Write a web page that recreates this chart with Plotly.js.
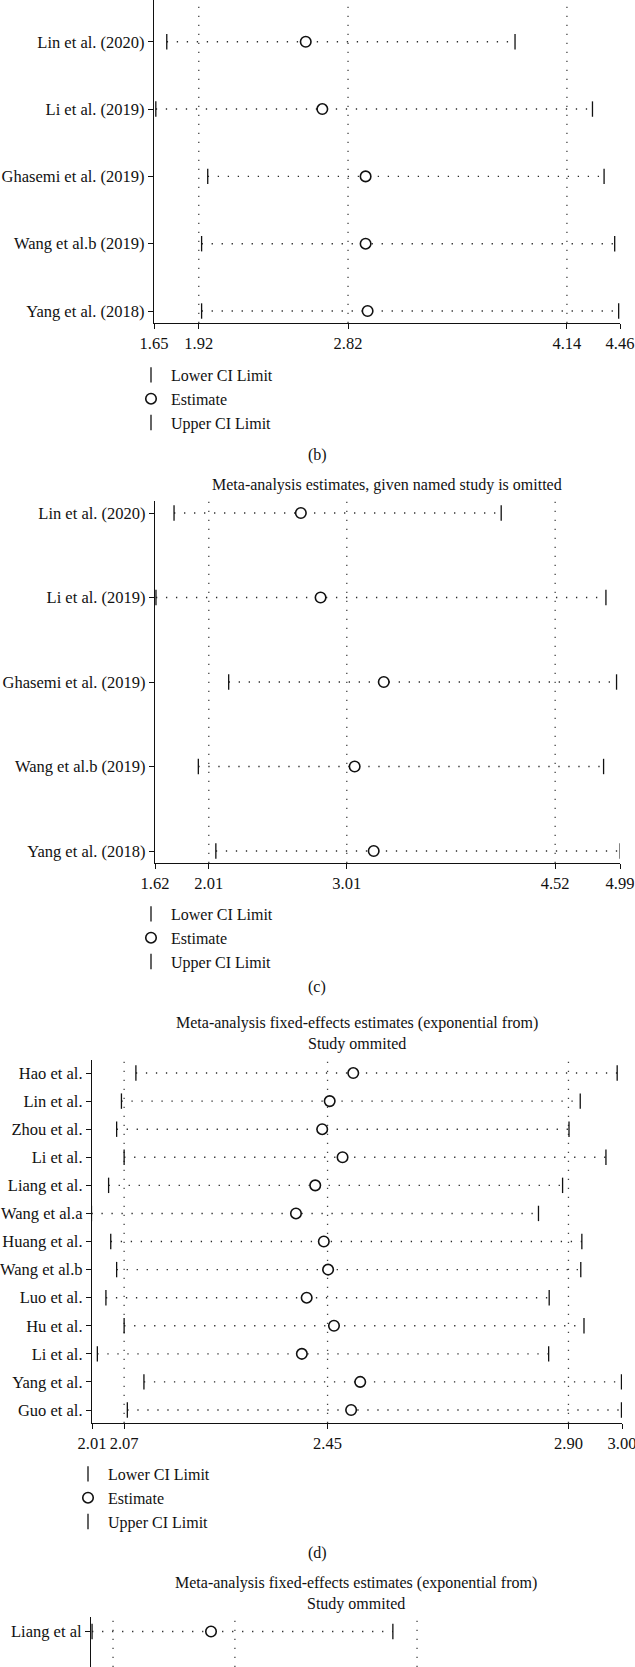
<!DOCTYPE html>
<html>
<head>
<meta charset="utf-8">
<script src="https://cdn.plot.ly/plotly-3.0.1.min.js"></script>
<style>
  html, body { margin: 0; padding: 0; background: #fff; }
  #grafico { width: 635px; height: 1667px; }
</style>
</head>
<body>
<div id="grafico"></div>
<script>
// Sensitivity analysis (leave-one-out) - four stacked forest-style panels

// Panel (b)
const estudiosB = ['Lin et al. (2020)', 'Li et al. (2019)', 'Ghasemi et al. (2019)', 'Wang et al.b (2019)', 'Yang et al. (2018)'];
const inferiorB = [1.727, 1.661, 1.974, 1.937, 1.937];
const estimaB   = [2.565, 2.665, 2.926, 2.926, 2.938];
const superiorB = [3.827, 4.294, 4.364, 4.428, 4.452];
const ticksB    = [1.65, 1.92, 2.82, 4.14, 4.46];
const gridB     = [1.92, 2.82, 4.14];

// Panel (c)
const estudiosC = ['Lin et al. (2020)', 'Li et al. (2019)', 'Ghasemi et al. (2019)', 'Wang et al.b (2019)', 'Yang et al. (2018)'];
const inferiorC = [1.758, 1.627, 2.154, 1.934, 2.061];
const estimaC   = [2.677, 2.820, 3.278, 3.067, 3.205];
const superiorC = [4.129, 4.888, 4.965, 4.871, 4.991];
const ticksC    = [1.62, 2.01, 3.01, 4.52, 4.99];
const gridC     = [2.01, 3.01, 4.52];

// Panel (d)
const estudiosD = ['Hao et al.', 'Lin et al.', 'Zhou et al.', 'Li et al.', 'Liang et al.', 'Wang et al.a', 'Huang et al.',
                   'Wang et al.b', 'Luo et al.', 'Hu et al.', 'Li et al.', 'Yang et al.', 'Guo et al.'];
const inferiorD = [2.092, 2.065, 2.056, 2.070, 2.041, 2.009, 2.045, 2.056, 2.036, 2.070, 2.020, 2.107, 2.076];
const estimaD   = [2.498, 2.454, 2.440, 2.478, 2.427, 2.391, 2.443, 2.451, 2.411, 2.462, 2.402, 2.511, 2.494];
const superiorD = [2.991, 2.922, 2.901, 2.970, 2.889, 2.844, 2.925, 2.923, 2.864, 2.929, 2.863, 2.999, 2.999];
const ticksD    = [2.01, 2.07, 2.45, 2.90, 3.00];
const gridD     = [2.07, 2.45, 2.90];

// Panel (e) - only its first row is visible (scale read relative to the plot width)
const estudiosE = ['Liang et al'];
const inferiorE = [1.004];
const estimaE   = [1.452];
const superiorE = [2.137];
const gridE     = [1.083, 1.542, 2.228];

const W = 635, H = 1667;
const familia = 'Liberation Serif, Times New Roman, serif';
const fuente = { family: familia, size: 16, color: '#111' };
const fuenteEje = { family: familia, size: 16.5, color: '#111' };
const punteado = '1.3px,8.7px';

// helpers: pixel -> paper
const px = v => v / W;
const py = v => 1 - v / H;

function trazasPanel(nombres, inf, est, sup, sx, sy, leyenda, mostrar) {
    const n = nombres.length;
    const filas = nombres.map((_, i) => n - 1 - i);
    const segX = [], segY = [];
    filas.forEach((r, i) => { segX.push(inf[i], sup[i], null); segY.push(r, r, null); });
    const comun = { xaxis: sx, yaxis: sy, type: 'scatter', hoverinfo: 'skip', legend: leyenda };
    return [
        Object.assign({}, comun, {
            x: segX, y: segY, mode: 'lines', showlegend: false,
            line: { color: '#2a2a2a', width: 1.4, dash: punteado }
        }),
        Object.assign({}, comun, {
            x: inf, y: filas, mode: 'markers', name: 'Lower CI Limit', showlegend: mostrar,
            marker: { symbol: 'line-ns-open', size: 11, color: '#111', line: { width: 1.3, color: '#111' } }
        }),
        Object.assign({}, comun, {
            x: est, y: filas, mode: 'markers', name: 'Estimate', showlegend: mostrar,
            marker: { symbol: 'circle', size: 10.5, color: 'white', line: { width: 1.6, color: '#111' } }
        }),
        Object.assign({}, comun, {
            x: sup, y: filas, mode: 'markers', name: 'Upper CI Limit', showlegend: mostrar,
            marker: { symbol: 'line-ns-open', size: 11, color: '#111', line: { width: 1.3, color: '#111' } }
        })
    ];
}

function ejeX(dominio, rango, ticks, anchor, visible) {
    return {
        domain: dominio, range: rango, anchor: anchor,
        tickmode: 'array', tickvals: ticks, ticktext: ticks.map(v => v.toFixed(2)),
        ticks: visible ? 'outside' : '', ticklen: 5, tickwidth: 1.2, tickcolor: '#111',
        showticklabels: visible, showline: visible, linecolor: '#111', linewidth: 1.3,
        ticklabeloverflow: 'allow',
        showgrid: false, zeroline: false, tickfont: fuenteEje, fixedrange: true
    };
}

function ejeY(dominio, rango, nombres, anchor) {
    const n = nombres.length;
    return {
        domain: dominio, range: rango, anchor: anchor,
        tickmode: 'array', tickvals: nombres.map((_, i) => n - 1 - i), ticktext: nombres,
        ticks: 'outside', ticklen: 5, tickwidth: 1.2, tickcolor: '#111',
        showline: true, linecolor: '#111', linewidth: 1.3,
        ticklabeloverflow: 'allow',
        showgrid: false, zeroline: false, tickfont: fuenteEje, fixedrange: true
    };
}

function rejilla(valores, xref, yref) {
    return valores.map(v => ({
        type: 'line', xref: xref, yref: yref + ' domain', x0: v, x1: v, y0: 0, y1: 1,
        line: { color: '#444', width: 1.3, dash: '1.3px,7.7px' }, layer: 'below'
    }));
}

function leyenda(xp, yp) {
    return {
        x: px(xp), xanchor: 'left', y: py(yp), yanchor: 'top',
        font: fuente, bgcolor: 'rgba(0,0,0,0)', borderwidth: 0, itemwidth: 30, tracegroupgap: 0
    };
}

const data = [].concat(
    trazasPanel(estudiosB, inferiorB, estimaB, superiorB, 'x', 'y', 'legend', true),
    trazasPanel(estudiosC, inferiorC, estimaC, superiorC, 'x2', 'y2', 'legend2', true),
    trazasPanel(estudiosD, inferiorD, estimaD, superiorD, 'x3', 'y3', 'legend3', true),
    trazasPanel(estudiosE, inferiorE, estimaE, superiorE, 'x4', 'y4', 'legend', false)
);

const anotaciones = [
    { text: '(b)', x: px(317), y: py(455) },
    { text: 'Meta-analysis estimates, given named study is omitted', x: px(387), y: py(485) },
    { text: '(c)', x: px(317), y: py(987) },
    { text: 'Meta-analysis fixed-effects estimates (exponential from)<br>Study ommited', x: px(357), y: py(1033) },
    { text: '(d)', x: px(317), y: py(1553) },
    { text: 'Meta-analysis fixed-effects estimates (exponential from)<br>Study ommited', x: px(356), y: py(1593) }
].map(a => Object.assign({ xref: 'paper', yref: 'paper', showarrow: false, xanchor: 'center', yanchor: 'middle', font: fuente }, a));

const layout = {
    width: W, height: H,
    margin: { l: 0, r: 0, t: 0, b: 0 },
    paper_bgcolor: '#fff', plot_bgcolor: '#fff',
    font: fuente,
    showlegend: true,
    xaxis:  ejeX([px(154), px(620)], [1.65, 4.46], ticksB, 'y', true),
    yaxis:  ejeY([py(323), 1], [-0.178, 4.62], estudiosB, 'x'),
    xaxis2: ejeX([px(155), px(620)], [1.62, 4.99], ticksC, 'y2', true),
    yaxis2: ejeY([py(863), py(501)], [-0.142, 4.142], estudiosC, 'x2'),
    xaxis3: ejeX([px(92), px(622)], [2.01, 3.00], ticksD, 'y3', true),
    yaxis3: ejeY([py(1423), py(1060)], [-0.463, 12.464], estudiosD, 'x3'),
    xaxis4: ejeX([px(91), px(622)], [1.00, 3.00], [], 'y4', false),
    yaxis4: ejeY([0, py(1617)], [-1.268, 0.518], estudiosE, 'x4'),
    shapes: [].concat(rejilla(gridB, 'x', 'y'), rejilla(gridC, 'x2', 'y2'), rejilla(gridD, 'x3', 'y3'), rejilla(gridE, 'x4', 'y4')),
    annotations: anotaciones,
    legend:  leyenda(131, 358),
    legend2: leyenda(131, 897),
    legend3: leyenda(68, 1457)
};

Plotly.newPlot('grafico', data, layout, { displayModeBar: false, responsive: false });
</script>
</body>
</html>
